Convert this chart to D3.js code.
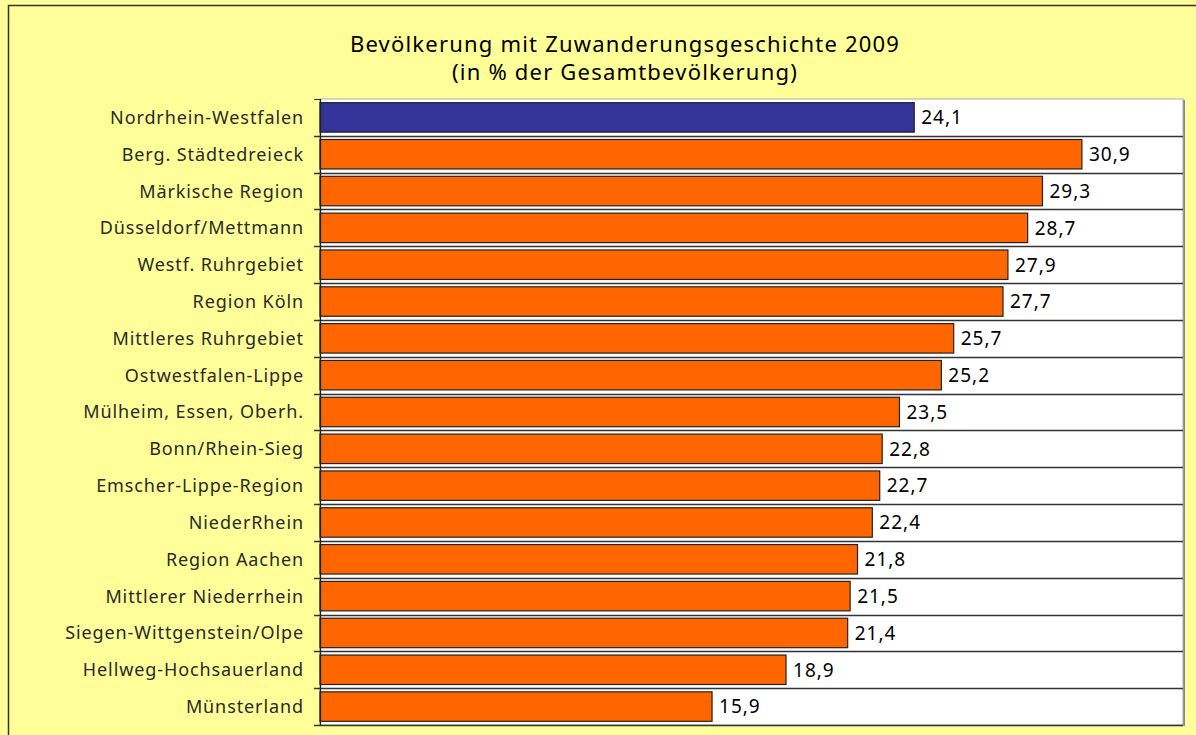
<!DOCTYPE html>
<html>
<head>
<meta charset="utf-8">
<script src="https://cdn.jsdelivr.net/npm/d3@7"></script>
<style>
  body { margin: 0; background: #fff; }
  svg { display: block; }
</style>
</head>
<body>
<div id="chart"></div>
<script>
const categories = [
  'Nordrhein-Westfalen', 'Berg. Städtedreieck', 'Märkische Region', 'Düsseldorf/Mettmann',
  'Westf. Ruhrgebiet', 'Region Köln', 'Mittleres Ruhrgebiet', 'Ostwestfalen-Lippe',
  'Mülheim, Essen, Oberh.', 'Bonn/Rhein-Sieg', 'Emscher-Lippe-Region', 'NiederRhein',
  'Region Aachen', 'Mittlerer Niederrhein', 'Siegen-Wittgenstein/Olpe', 'Hellweg-Hochsauerland',
  'Münsterland'
];
const values = [24.1, 30.9, 29.3, 28.7, 27.9, 27.7, 25.7, 25.2, 23.5, 22.8, 22.7, 22.4, 21.8, 21.5, 21.4, 18.9, 15.9];
const titleLines = ['Bevölkerung mit Zuwanderungsgeschichte 2009', '(in % der Gesamtbevölkerung)'];

const width = 1196, height = 735;
const margin = { top: 99, right: 13, bottom: 10, left: 320 };
const font = 'Noto Sans';

const svg = d3.select('#chart')
  .append('svg')
  .attr('width', width)
  .attr('height', height);

// background and frame
svg.append('rect')
  .attr('x', 0).attr('y', 0)
  .attr('width', width).attr('height', height)
  .attr('fill', '#ffff99');

svg.append('rect')
  .attr('x', 8.5).attr('y', 5.5)
  .attr('width', width + 10).attr('height', height + 10)
  .attr('fill', 'none')
  .attr('stroke', '#333')
  .attr('stroke-width', 1.5);

const x = d3.scaleLinear()
  .domain([0, 35])
  .range([margin.left, width - margin.right]);

const y = d3.scaleBand()
  .domain(categories)
  .range([margin.top, height - margin.bottom])
  .paddingInner(0.2)
  .paddingOuter(0.1);

const step = y.step();
const boundary = d => Math.round(y(d) - (step - y.bandwidth()) / 2) + 0.5;

// plot area with a little shadow
svg.append('rect')
  .attr('x', margin.left + 2).attr('y', margin.top + 1)
  .attr('width', width - margin.right - margin.left).attr('height', height - margin.bottom - margin.top)
  .attr('fill', '#888');

svg.append('rect')
  .attr('x', margin.left).attr('y', margin.top)
  .attr('width', width - margin.right - margin.left).attr('height', height - margin.bottom - margin.top)
  .attr('fill', '#fff')
  .attr('stroke', '#aaa')
  .attr('stroke-width', 1);

// separators between categories
svg.append('g')
  .selectAll('line')
  .data(categories.slice(1))
  .enter()
  .append('line')
  .attr('x1', margin.left - 6)
  .attr('x2', width - margin.right)
  .attr('y1', boundary)
  .attr('y2', boundary)
  .attr('stroke', '#333')
  .attr('stroke-width', 1.3);

// top tick
svg.append('line')
  .attr('x1', margin.left - 6).attr('x2', margin.left)
  .attr('y1', margin.top + 0.5).attr('y2', margin.top + 0.5)
  .attr('stroke', '#333');

// bottom line
svg.append('line')
  .attr('x1', margin.left - 6).attr('x2', width - margin.right)
  .attr('y1', height - margin.bottom + 0.5).attr('y2', height - margin.bottom + 0.5)
  .attr('stroke', '#333')
  .attr('stroke-width', 1.3);

// bars
svg.append('g')
  .selectAll('rect')
  .data(values)
  .enter()
  .append('rect')
  .attr('x', x(0))
  .attr('y', (_, i) => y(categories[i]))
  .attr('width', d => x(d) - x(0))
  .attr('height', y.bandwidth())
  .attr('fill', (_, i) => i === 0 ? '#333399' : '#ff6600')
  .attr('stroke', '#222')
  .attr('stroke-width', 1.2);

// axis line
svg.append('line')
  .attr('x1', margin.left + 0.5).attr('x2', margin.left + 0.5)
  .attr('y1', margin.top).attr('y2', height - margin.bottom)
  .attr('stroke', '#222')
  .attr('stroke-width', 1.3);

// value labels
svg.append('g')
  .selectAll('text')
  .data(values)
  .enter()
  .append('text')
  .attr('x', d => x(d) + 7)
  .attr('y', (_, i) => y(categories[i]) + y.bandwidth() / 2)
  .attr('dy', '0.36em')
  .attr('font-family', font)
  .attr('font-size', '19px')
  .attr('letter-spacing', '1px')
  .attr('fill', '#000')
  .text(d => d.toFixed(1).replace('.', ','));

// category labels
svg.append('g')
  .selectAll('text')
  .data(categories)
  .enter()
  .append('text')
  .attr('x', margin.left - 16)
  .attr('y', d => y(d) + y.bandwidth() / 2)
  .attr('dy', '0.36em')
  .attr('text-anchor', 'end')
  .attr('font-family', font)
  .attr('font-size', '18px')
  .attr('letter-spacing', '0.9px')
  .attr('fill', '#2a2a2a')
  .text(d => d);

// title
svg.append('g')
  .selectAll('text')
  .data(titleLines)
  .enter()
  .append('text')
  .attr('x', 625)
  .attr('y', (_, i) => 52 + i * 28)
  .attr('text-anchor', 'middle')
  .attr('font-family', font)
  .attr('font-size', '22px')
  .attr('letter-spacing', '1.2px')
  .attr('fill', '#000')
  .text(d => d);
</script>
</body>
</html>
